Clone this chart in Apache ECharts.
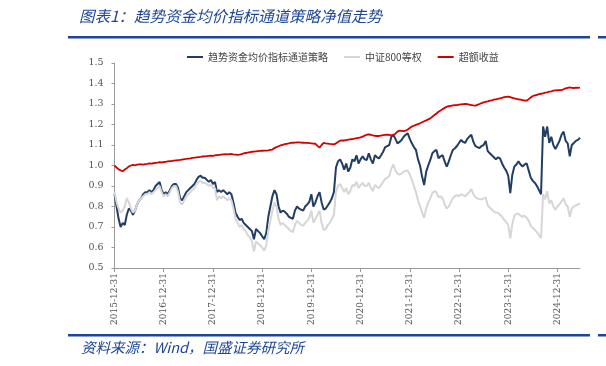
<!DOCTYPE html>
<html><head><meta charset="utf-8">
<script src="https://cdn.jsdelivr.net/npm/echarts@6/dist/echarts.min.js"></script>
<style>html,body{margin:0;padding:0;background:#fff}#c{width:606px;height:366px}</style>
</head><body><div id="c"></div>
<script>
// Half-month sample dates from 2015-12-31 to 2025-06-15
const startDate = '2015-12-31';
const endDate = '2025-06-15';
const categories = [startDate];
(function(){
  for (let y = 2016; y <= 2025; y++) {
    for (let m = 1; m <= 12; m++) {
      const mm = String(m).padStart(2, '0');
      const last = new Date(y, m, 0).getDate();
      for (const d of [15, last]) {
        const s = y + '-' + mm + '-' + String(d).padStart(2, '0');
        if (s <= endDate) categories.push(s);
      }
    }
  }
})();

const tickLabels = ['2015-12-31','2016-12-31','2017-12-31','2018-12-31','2019-12-31','2020-12-31','2021-12-31','2022-12-31','2023-12-31','2024-12-31'];
const seriesNames = ['趋势资金均价指标通道策略','中证800等权','超额收益'];

const strategy = [
0.86,0.80,0.74,0.70,0.72,0.71,0.76,0.79,0.78,0.76,
0.78,0.81,0.83,0.84,0.86,0.87,0.87,0.88,0.87,0.88,
0.90,0.91,0.92,0.88,0.86,0.87,0.86,0.88,0.90,0.91,
0.91,0.89,0.84,0.83,0.85,0.87,0.88,0.89,0.90,0.91,
0.93,0.945,0.95,0.94,0.94,0.93,0.92,0.93,0.91,0.92,
0.87,0.88,0.87,0.88,0.87,0.86,0.87,0.86,0.82,0.77,
0.75,0.735,0.74,0.72,0.71,0.70,0.69,0.68,0.64,0.69,
0.68,0.67,0.655,0.64,0.67,0.75,0.80,0.85,0.88,0.86,
0.80,0.77,0.78,0.775,0.765,0.75,0.745,0.74,0.78,0.80,
0.79,0.785,0.78,0.80,0.81,0.823,0.86,0.80,0.82,0.85,
0.87,0.82,0.785,0.79,0.805,0.82,0.84,0.87,0.99,1.02,
1.03,1.01,0.98,1.01,0.97,0.99,1.03,1.02,1.05,1.01,
1.03,1.045,1.03,1.027,1.06,1.03,1.01,1.05,1.04,1.035,
1.05,1.067,1.09,1.095,1.10,1.14,1.149,1.13,1.108,1.115,
1.124,1.14,1.15,1.157,1.13,1.108,1.09,1.076,1.03,1.00,
0.946,0.905,0.97,1.00,1.027,1.06,1.07,1.076,1.035,1.045,
1.05,1.02,0.994,1.019,1.05,1.076,1.084,1.095,1.11,1.125,
1.115,1.11,1.13,1.14,1.15,1.115,1.095,1.09,1.085,1.095,
1.10,1.12,1.07,1.06,1.05,1.04,1.03,1.04,1.035,1.01,
0.99,0.975,0.95,0.865,0.955,0.995,1.005,1.02,1.005,0.995,
1.005,1.01,0.975,0.94,0.925,0.915,0.90,0.88,0.86,1.19,
1.14,1.19,1.11,1.14,1.10,1.08,1.10,1.12,1.15,1.165,
1.12,1.108,1.045,1.10,1.11,1.12,1.125,1.135
];

const csi800 = [
0.87,0.82,0.79,0.77,0.78,0.80,0.84,0.82,0.79,0.77,
0.78,0.81,0.83,0.84,0.85,0.86,0.86,0.87,0.86,0.87,
0.88,0.89,0.90,0.87,0.85,0.86,0.85,0.87,0.89,0.90,
0.90,0.87,0.82,0.81,0.83,0.85,0.86,0.87,0.88,0.89,
0.91,0.92,0.925,0.915,0.915,0.91,0.90,0.91,0.89,0.89,
0.83,0.85,0.84,0.85,0.84,0.83,0.84,0.83,0.79,0.74,
0.72,0.70,0.71,0.69,0.68,0.66,0.65,0.63,0.58,0.63,
0.62,0.61,0.60,0.585,0.61,0.68,0.73,0.78,0.82,0.80,
0.74,0.71,0.72,0.71,0.70,0.69,0.68,0.675,0.71,0.73,
0.72,0.71,0.705,0.72,0.73,0.745,0.78,0.72,0.74,0.76,
0.78,0.72,0.685,0.69,0.71,0.72,0.74,0.76,0.87,0.90,
0.91,0.89,0.87,0.89,0.86,0.875,0.905,0.90,0.92,0.89,
0.905,0.915,0.90,0.90,0.915,0.89,0.875,0.905,0.895,0.89,
0.905,0.92,0.935,0.94,0.95,0.985,1.005,0.975,0.96,0.955,
0.96,0.97,0.975,0.975,0.955,0.93,0.90,0.87,0.83,0.80,
0.77,0.745,0.79,0.82,0.84,0.865,0.875,0.87,0.845,0.85,
0.84,0.81,0.79,0.80,0.82,0.84,0.85,0.855,0.85,0.86,
0.855,0.85,0.86,0.87,0.885,0.86,0.845,0.84,0.835,0.835,
0.84,0.845,0.805,0.795,0.785,0.775,0.77,0.77,0.76,0.75,
0.735,0.725,0.71,0.645,0.715,0.755,0.765,0.765,0.755,0.75,
0.755,0.745,0.73,0.705,0.695,0.685,0.675,0.66,0.645,0.86,
0.835,0.875,0.815,0.83,0.80,0.785,0.80,0.81,0.825,0.84,
0.81,0.80,0.75,0.79,0.80,0.805,0.81,0.815
];

const excess = [
1.000,0.990,0.982,0.976,0.972,0.980,0.987,0.995,1.000,1.003,
1.001,1.004,1.005,1.006,1.004,1.007,1.008,1.010,1.009,1.011,
1.013,1.014,1.016,1.015,1.017,1.018,1.020,1.021,1.022,1.024,
1.025,1.026,1.027,1.029,1.031,1.032,1.034,1.035,1.037,1.038,
1.040,1.041,1.042,1.044,1.045,1.046,1.047,1.048,1.047,1.049,
1.051,1.052,1.053,1.054,1.055,1.054,1.055,1.056,1.054,1.053,
1.052,1.053,1.056,1.059,1.061,1.063,1.065,1.067,1.068,1.069,
1.070,1.071,1.072,1.073,1.073,1.074,1.076,1.078,1.085,1.090,
1.094,1.098,1.101,1.104,1.106,1.108,1.110,1.111,1.112,1.113,
1.113,1.112,1.111,1.110,1.110,1.109,1.108,1.107,1.106,1.096,
1.087,1.100,1.110,1.108,1.107,1.105,1.104,1.103,1.108,1.115,
1.121,1.123,1.122,1.124,1.126,1.128,1.129,1.131,1.133,1.135,
1.137,1.141,1.146,1.150,1.152,1.150,1.147,1.145,1.144,1.144,
1.146,1.148,1.149,1.150,1.149,1.147,1.150,1.155,1.165,1.170,
1.169,1.168,1.170,1.176,1.183,1.190,1.194,1.198,1.202,1.206,
1.211,1.216,1.220,1.225,1.230,1.238,1.246,1.254,1.262,1.268,
1.275,1.281,1.287,1.289,1.291,1.293,1.294,1.295,1.297,1.298,
1.299,1.300,1.299,1.297,1.295,1.293,1.292,1.296,1.300,1.304,
1.308,1.311,1.313,1.316,1.318,1.321,1.323,1.325,1.328,1.330,
1.333,1.335,1.336,1.333,1.330,1.327,1.325,1.323,1.321,1.319,
1.317,1.316,1.324,1.332,1.339,1.342,1.345,1.348,1.350,1.352,
1.355,1.357,1.360,1.362,1.365,1.366,1.367,1.368,1.368,1.372,
1.376,1.379,1.381,1.379,1.378,1.380,1.379,1.380
];

const yTicks = { min: 0.5, max: 1.5, interval: 0.1 };
const titleText = '图表1：趋势资金均价指标通道策略净值走势';
const sourceText = '资料来源：Wind，国盛证券研究所';

const chart = echarts.init(document.getElementById('c'), null, { renderer: 'canvas' });
const blue = '#1d4599';
chart.setOption({
  animation: false,
  backgroundColor: '#fff',
  color: ['#213d63', '#d6d6d6', '#d40000'],
  grid: { left: 114.5, right: 26, top: 63, bottom: 98, containLabel: false },
  legend: {
    top: 47, left: 182,
    icon: 'rect',
    itemWidth: 16, itemHeight: 2, itemGap: 16,
    textStyle: { fontFamily: 'Noto Sans CJK SC', fontSize: 10, color: '#444' },
    data: seriesNames
  },
  graphic: [
    { type: 'text', left: 79, top: 8, style: { text: titleText, fill: blue, font: 'italic 15.5px "Noto Sans CJK SC"' } },
    { type: 'rect', shape: { x: 68, y: 36, width: 522, height: 2.5 }, style: { fill: blue } },
    { type: 'rect', shape: { x: 598, y: 36, width: 8, height: 2.5 }, style: { fill: blue } },
    { type: 'rect', shape: { x: 68, y: 334, width: 522, height: 2.5 }, style: { fill: blue } },
    { type: 'rect', shape: { x: 598, y: 334, width: 8, height: 2.5 }, style: { fill: blue } },
    { type: 'text', left: 81, top: 340, style: { text: sourceText, fill: blue, font: 'italic 14.5px "Noto Sans CJK SC"' } }
  ],
  xAxis: {
    type: 'category',
    data: categories,
    boundaryGap: false,
    axisLine: { lineStyle: { color: '#9a9a9a', width: 1 } },
    axisTick: { interval: (i, v) => tickLabels.indexOf(v) >= 0, length: 4, lineStyle: { color: '#9a9a9a' } },
    axisLabel: {
      interval: (i, v) => tickLabels.indexOf(v) >= 0,
      rotate: 90, margin: 5,
      fontFamily: 'DejaVu Serif', fontSize: 9, color: '#555'
    },
    splitLine: { show: false }
  },
  yAxis: {
    type: 'value',
    min: yTicks.min, max: yTicks.max, interval: yTicks.interval,
    axisLine: { show: true, lineStyle: { color: '#9a9a9a', width: 1 } },
    axisTick: { show: true, length: 3, lineStyle: { color: '#9a9a9a' } },
    axisLabel: { formatter: v => v.toFixed(1), fontFamily: 'DejaVu Serif', fontSize: 9.5, color: '#555', margin: 11 },
    splitLine: { show: false }
  },
  series: [
    { name: seriesNames[0], type: 'line', data: strategy, symbol: 'none', lineStyle: { width: 2, color: '#213d63' } },
    { name: seriesNames[1], type: 'line', data: csi800, symbol: 'none', lineStyle: { width: 2, color: '#d6d6d6' } },
    { name: seriesNames[2], type: 'line', data: excess, symbol: 'none', lineStyle: { width: 1.8, color: '#d40000' } }
  ]
});
</script>
</body></html>
